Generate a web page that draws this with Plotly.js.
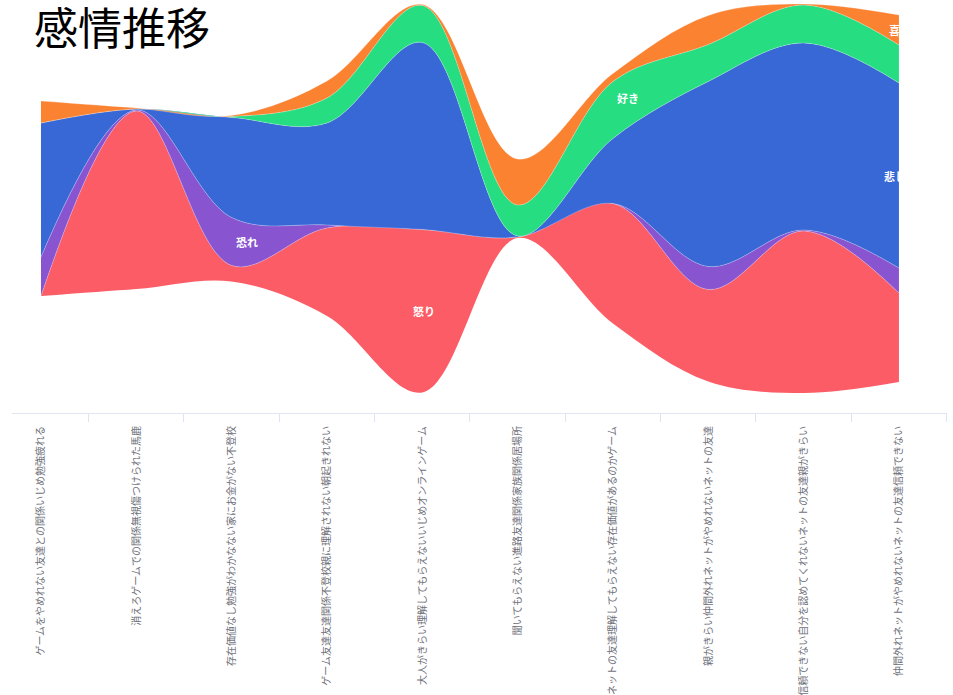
<!DOCTYPE html>
<html>
<head>
<meta charset="utf-8">
<script src="https://cdn.plot.ly/plotly-3.0.1.min.js"></script>
<style>html,body{margin:0;padding:0;background:#fff;}#chart{width:953px;height:695px;}</style>
</head>
<body>
<div id="chart"></div>
<script>
const categories = [
  "ゲームをやめれない友達との関係いじめ勉強疲れる",
  "消えろゲームでの関係無視傷つけられた馬鹿",
  "存在価値なし勉強がわかなない家にお金がない不登校",
  "ゲーム友達友達関係不登校親に理解されない朝起きれない",
  "大人がきらい理解してもらえないいじめオンラインゲーム",
  "聞いてもらえない進路友達関係家族関係居場所",
  "ネットの友達理解してもらえない存在価値があるのかゲーム",
  "親がきらい仲間外れネットがやめれないネットの友達",
  "信頼できない自分を認めてくれないネットの友達親がきらい",
  "仲間外れネットがやめれないネットの友達信頼できない"
];
const seriesNames = ["怒り", "恐れ", "悲しい", "好き", "喜び"];
const anger = [0, 178, 16, 88, 163, 1, 120, 92, 162, 89];
const fear  = [39, 1, 48, 3, 0, 0, 0, 23, 1, 25];
const sad   = [134, 1, 100, 102, 187, 1, 65, 185, 187, 185];
const like  = [0, 0, 1, 25, 37, 31, 57, 37, 38, 38];
const joy   = [22, 1, 1, 17, 1, 46, 8, 29, 1, 30];

const layers = [anger, fear, sad, like, joy];
const colors = ["#fc5c65", "#8854d0", "#3867d6", "#26de81", "#fa8231"];
const xs = categories.map((_, i) => i);
const totals = xs.map(i => layers.reduce((s, l) => s + l[i], 0));
const maxT = Math.max(...totals);
const base = totals.map(t => (maxT - t) / 2);

const traces = [{
  x: xs, y: base.slice(), mode: "lines", line: {width: 0, shape: "spline"},
  hoverinfo: "skip", showlegend: false
}];
const cum = base.slice();
const mids = [];
layers.forEach((l, k) => {
  const m = [];
  xs.forEach(i => { m.push(cum[i] + l[i] / 2); cum[i] += l[i]; });
  mids.push(m);
  traces.push({
    x: xs, y: cum.slice(), mode: "lines", fill: "tonexty", fillcolor: colors[k],
    line: {width: 0.6, color: "rgba(255,255,255,0.45)", shape: "spline"},
    name: seriesNames[k], hoverinfo: "skip", showlegend: false
  });
});
traces.push({x: [0], y: [0], xaxis: "x2", mode: "markers", marker: {opacity: 0}, hoverinfo: "skip", showlegend: false});

const labelSpec = [
  {k: 1, i: 2, xs: 2, ys: 0},
  {k: 0, i: 4, xs: -11, ys: 0},
  {k: 3, i: 6, xs: 2, ys: 12},
  {k: 2, i: 9, xs: -17, ys: 0},
  {k: 4, i: 9, xs: -12, ys: 0}
];
const annotations = labelSpec.map(s => ({
  x: s.i, y: mids[s.k][s.i], xref: "x", yref: "y", text: seriesNames[s.k],
  showarrow: false, xanchor: "left", yanchor: "middle", xshift: s.xs, yshift: s.ys,
  font: {family: "Noto Sans CJK JP", size: 11, color: "#ffffff", weight: "bold"}
}));

const xr = [-0.304, 9.504];
const layout = {
  width: 953, height: 695,
  margin: {l: 12, r: 6, t: 0, b: 282},
  paper_bgcolor: "#fff", plot_bgcolor: "#fff",
  title: {text: "感情推移", x: 34 / 953, xref: "container", xanchor: "left",
          y: 1 - 14 / 695, yref: "container", yanchor: "top", pad: {t: 0},
          font: {family: "Noto Sans CJK JP", size: 44, color: "#000"}},
  xaxis: {range: xr, tickvals: xs, ticktext: categories, tickangle: -90, ticks: "",
          showline: true, linecolor: "#e0e6f1", linewidth: 1, showgrid: false, zeroline: false,
          ticklabelstandoff: 8,
          tickfont: {family: "Noto Sans CJK JP", size: 10, color: "#6e7079"}, fixedrange: true},
  xaxis2: {range: xr, overlaying: "x", anchor: "y", side: "bottom",
           tickvals: xs.map(i => i + 0.5), ticks: "outside", ticklen: 8, tickcolor: "#e0e6f1",
           showticklabels: false, showline: false, showgrid: false, zeroline: false, fixedrange: true},
  yaxis: {range: [-20, 393], visible: false, fixedrange: true},
  annotations: annotations,
  showlegend: false,
  hovermode: false
};
Plotly.newPlot("chart", traces, layout, {displayModeBar: false, staticPlot: true});
</script>
</body>
</html>
